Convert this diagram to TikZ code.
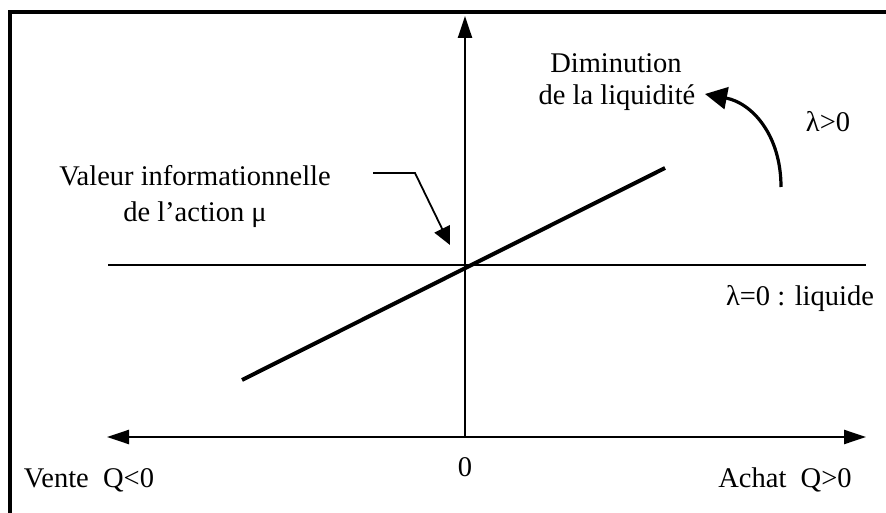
\documentclass[tikz,border=0pt]{standalone}
\usepackage{fontspec}
\setmainfont{Liberation Serif}
\usetikzlibrary{arrows.meta, positioning}

\begin{document}
\begin{tikzpicture}[
        x=1pt, y=-1pt,
        frame/.style={line width=4pt},
        axis/.style={line width=2.4pt},
        axistip/.style={-{Triangle[length=22pt, width=14pt]}},
        bothtips/.style={{Triangle[length=22pt, width=14pt]}-{Triangle[length=22pt, width=14pt]}},
        curve/.style={line width=4pt},
        leader/.style={line width=1.8pt, -{Triangle[length=18pt, width=17pt]}},
        turn/.style={line width=3.2pt, -{Triangle[length=22pt, width=22pt]}},
        txt/.style={font=\fontsize{28.5}{34}\selectfont, inner sep=0pt, anchor=base},
    ]
        \useasboundingbox (0,0) rectangle (886,513);

        % frame (left and top sides only)
        \coordinate (fbl) at (10,513);
        \coordinate (ftl) at (10,12);
        \coordinate (ftr) at (886,12);
        \draw[frame] (fbl) -- (ftl) -- (ftr);

        % axes
        \coordinate (o) at (465,437);
        \coordinate (ytop) at (465,16);
        \coordinate (xl) at (107,437);
        \coordinate (xr) at (866,437);
        \draw[axis, axistip] (o) -- (ytop);
        \draw[axis, bothtips] (xl) -- (xr);

        % lambda = 0 and lambda > 0
        \coordinate (hl) at (108,265);
        \coordinate (hr) at (866,265);
        \draw[axis] (hl) -- (hr);
        \coordinate (sl) at (242,380);
        \coordinate (sr) at (665,168);
        \draw[curve] (sl) -- (sr);

        % labels
        \node[txt] (zero) at (465,476) {0};
        \node[txt] (vente) at (89,487) {Vente\ \ Q<0};
        \node[txt] (achat) at (785,487) {Achat\ \ Q>0};
        \node[txt] (liq) at (800,305) {λ=0 : liquide};
        \node[txt] (pos) at (828,132) {λ>0};
        \node[txt] (dim1) at (616,73) {Diminution};
        \node[txt] (dim2) at (617,105) {de la liquidité};
        \node[txt] (val1) at (195,186) {Valeur informationnelle};
        \node[txt] (val2) at (195,222) {de l’action μ};

        % pointers
        \coordinate (ld0) at (373,173);
        \coordinate (ld1) at (415,173);
        \coordinate (ld2) at (450,245);
        \draw[leader] (ld0) -- (ld1) -- (ld2);
        \coordinate (tr0) at (781,187);
        \coordinate (tr1) at (705,94);
        \draw[turn] (tr0) .. controls (781,135) and (752,103) .. (tr1);
    \end{tikzpicture}
\end{document}
